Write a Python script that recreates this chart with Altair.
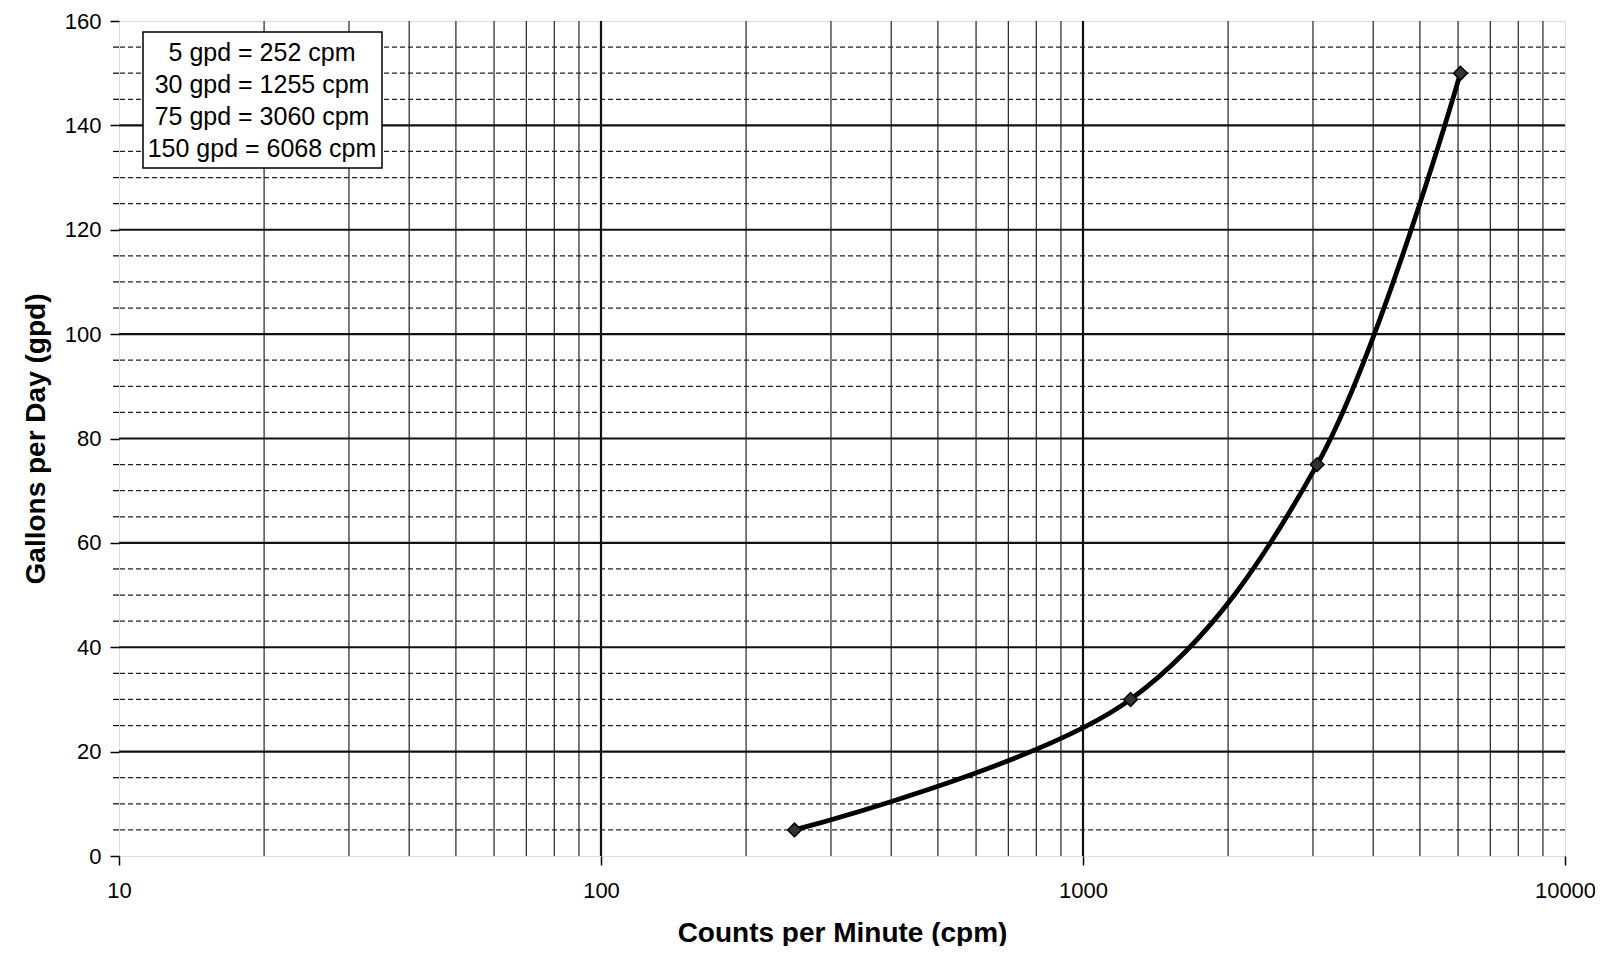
import altair as alt
import pandas as pd

# ---- data ----
cpm = [252, 1255, 3060, 6068]
gpd = [5, 30, 75, 150]
legend_lines = ["5 gpd = 252 cpm", "30 gpd = 1255 cpm", "75 gpd = 3060 cpm", "150 gpd = 6068 cpm"]
x_decades = [10, 100, 1000, 10000]
x_minor = [m * d for d in [10, 100, 1000] for m in range(2, 10)]
y_major = [0, 20, 40, 60, 80, 100, 120, 140, 160]
y_minor = [v for v in range(0, 161, 5) if v % 20 != 0]

W, H = 1446, 835
FONT = "Liberation Sans"

xscale = alt.Scale(type="log", domain=[10, 10000], nice=False)
yscale = alt.Scale(domain=[0, 160], nice=False, zero=False)


def X(field="x"):
    return alt.X(
        f"{field}:Q", scale=xscale,
        axis=alt.Axis(
            values=x_decades, format="d", grid=False, domain=False,
            tickSize=9, tickColor="black", tickWidth=1.5,
            labelFont=FONT, labelFontSize=22, labelColor="black", labelPadding=15,
            labelFlush=False,
            title="Counts per Minute (cpm)", titleFont=FONT, titleFontSize=28,
            titleFontWeight="bold", titleColor="black",
            titleX=W / 2, titleY=85, titleBaseline="alphabetic", titleAlign="center",
        ),
    )


def Y(field="y"):
    return alt.Y(
        f"{field}:Q", scale=yscale,
        axis=alt.Axis(
            values=y_major, grid=False, domain=False,
            tickSize=9, tickColor="black", tickWidth=1.5,
            labelFont=FONT, labelFontSize=22, labelColor="black", labelPadding=9,
            labelFlush=False,
            title="Gallons per Day (gpd)", titleFont=FONT, titleFontSize=28,
            titleFontWeight="bold", titleColor="black",
            titleX=-75, titleY=H / 2, titleAngle=-90, titleBaseline="alphabetic",
            titleAlign="center",
        ),
    )


df = pd.DataFrame({"x": cpm, "y": gpd})
vminor = pd.DataFrame({"x": x_minor})
vmajor = pd.DataFrame({"x": x_decades[1:-1]})
hmajor = pd.DataFrame({"y": y_major[1:-1]})
hminor = pd.DataFrame({"y": y_minor})
yticks_minor = pd.DataFrame({"y": y_minor})
one = pd.DataFrame({"k": [0]})

v_minor_rules = alt.Chart(vminor).mark_rule(color="#222", strokeWidth=1.2).encode(x=X())
v_major_rules = alt.Chart(vmajor).mark_rule(color="#111", strokeWidth=2.2).encode(x=X())
h_minor_rules = alt.Chart(hminor).mark_rule(
    color="#222", strokeWidth=1.3, strokeDash=[5, 3]
).encode(y=Y())
h_major_rules = alt.Chart(hmajor).mark_rule(color="#111", strokeWidth=2.2).encode(y=Y())
minor_ticks = alt.Chart(yticks_minor).mark_rule(color="black", strokeWidth=1.2).encode(
    y=Y(), x=alt.value(-6), x2=alt.value(0)
)

curve = alt.Chart(df).mark_line(
    color="black", strokeWidth=4.8, interpolate="catmull-rom"
).encode(x=X(), y=Y())
points = alt.Chart(df).mark_point(
    shape="diamond", size=190, filled=True, color="#333", stroke="black", strokeWidth=1.5, opacity=1
).encode(x=X(), y=Y())

legend_box = alt.Chart(one).mark_rect(
    fill="white", stroke="black", strokeWidth=1.5
).encode(x=alt.value(24), x2=alt.value(263), y=alt.value(11), y2=alt.value(147))
legend_text = alt.Chart(one).mark_text(
    font=FONT, fontSize=25, color="black", align="center", baseline="middle",
    lineBreak="\n", lineHeight=32,
).encode(x=alt.value(143), y=alt.value(32), text=alt.value("\n".join(legend_lines)))

chart = alt.layer(
    v_minor_rules, v_major_rules, h_minor_rules, h_major_rules, minor_ticks,
    curve, points, legend_box, legend_text,
).properties(
    width=W, height=H,
    autosize=alt.AutoSizeParams(type="none"),
    padding={"left": 111, "top": 13, "right": 30, "bottom": 90},
).configure_view(
    stroke="black", strokeWidth=2.2
).configure(background="white")

chart.save("out.html", embed_options={"renderer": "svg", "actions": False})
